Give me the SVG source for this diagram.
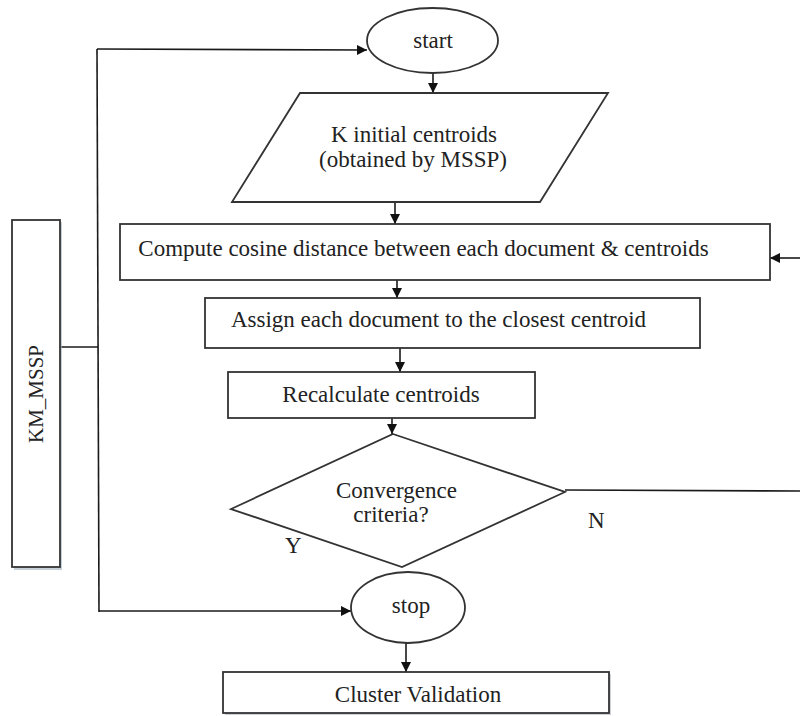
<svg xmlns="http://www.w3.org/2000/svg" width="800" height="716" viewBox="0 0 800 716">
<style>
  .shape { fill: #ffffff; stroke: #333333; stroke-width: 1.8; }
  .line { fill: none; stroke: #1a1a1a; stroke-width: 1.6; }
  .lbl { font-family: "Liberation Serif", "Times New Roman", serif; font-size: 23px; fill: #222222; }
  .mid { text-anchor: middle; }
</style>
<defs>
  <marker id="arrow" viewBox="0 0 10 10" refX="10" refY="5" markerWidth="10" markerHeight="10" markerUnits="userSpaceOnUse" orient="auto">
    <path d="M0,0 L10,5 L0,10 Z" fill="#111111"/>
  </marker>
</defs>
<rect width="800" height="716" fill="#ffffff"/>

<g id="connectors">
  <!-- KM_MSSP bracket -->
  <line class="line" x1="60" y1="347" x2="98" y2="347"/>
  <line class="line" x1="97" y1="49" x2="99" y2="612"/>
  <line class="line" x1="97" y1="49" x2="367" y2="50" marker-end="url(#arrow)"/>
  <line class="line" x1="99" y1="611" x2="351" y2="611" marker-end="url(#arrow)"/>
  <!-- main flow -->
  <line class="line" x1="433" y1="73" x2="433" y2="93" marker-end="url(#arrow)"/>
  <line class="line" x1="395" y1="202" x2="395" y2="224" marker-end="url(#arrow)"/>
  <line class="line" x1="397" y1="280" x2="397" y2="298" marker-end="url(#arrow)"/>
  <line class="line" x1="400" y1="348" x2="400" y2="372" marker-end="url(#arrow)"/>
  <line class="line" x1="392" y1="418" x2="392" y2="434" marker-end="url(#arrow)"/>
  <line class="line" x1="406" y1="643" x2="406" y2="672" marker-end="url(#arrow)"/>
  <!-- N loop -->
  <line class="line" x1="565" y1="490" x2="800" y2="491"/>
  <line class="line" x1="800" y1="258" x2="770" y2="258" marker-end="url(#arrow)"/>
</g>

<g id="km_mssp">
  <rect x="14" y="222" width="48" height="348" fill="#9fb0bf" opacity="0.6"/>
  <rect class="shape" x="12" y="220" width="48" height="347"/>
  <text class="lbl mid" style="font-size:21px" transform="translate(43,394) rotate(-90)">KM_MSSP</text>
</g>

<g id="start">
  <ellipse class="shape" cx="432.5" cy="40.5" rx="65.5" ry="32.5"/>
  <text class="lbl mid" x="433" y="48">start</text>
</g>

<g id="initial_centroids">
  <polygon class="shape" points="300,93 608,93 540,202 232,202"/>
  <text class="lbl mid" x="414" y="142">K initial centroids</text>
  <text class="lbl mid" x="413" y="167">(obtained by MSSP)</text>
</g>

<g id="compute">
  <rect class="shape" x="120" y="224" width="650" height="56"/>
  <text class="lbl mid" x="423.5" y="256">Compute cosine distance between each document &amp; centroids</text>
</g>

<g id="assign">
  <rect class="shape" x="205" y="298" width="495" height="50"/>
  <text class="lbl mid" x="438.5" y="327">Assign each document to the closest centroid</text>
</g>

<g id="recalculate">
  <rect class="shape" x="228" y="372" width="307" height="46"/>
  <text class="lbl mid" x="381" y="402">Recalculate centroids</text>
</g>

<g id="convergence">
  <polygon class="shape" points="393,434 565,492 402,567 231,509"/>
  <text class="lbl mid" x="396.5" y="498">Convergence</text>
  <text class="lbl mid" x="391" y="522">criteria?</text>
  <text class="lbl" x="285" y="553">Y</text>
  <text class="lbl" x="588" y="528">N</text>
</g>

<g id="stop">
  <ellipse class="shape" cx="408" cy="607.5" rx="57" ry="35.5"/>
  <text class="lbl mid" x="411" y="613">stop</text>
</g>

<g id="cluster_validation">
  <rect x="225" y="674" width="386" height="41" fill="#aab4bd" opacity="0.6"/>
  <rect class="shape" x="223" y="672" width="386" height="41"/>
  <text class="lbl mid" x="418" y="702">Cluster Validation</text>
</g>
</svg>
